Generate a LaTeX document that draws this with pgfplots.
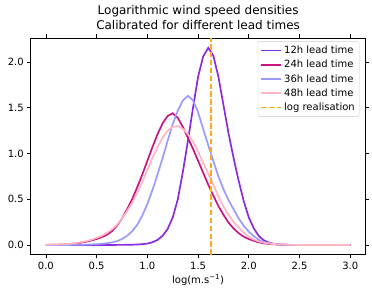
\documentclass[border=0pt]{standalone}
\usepackage{pgfplots}
\pgfplotsset{compat=1.18}
\usepackage{pgfplotstable}
\usepackage{fontspec}
\setmainfont{DejaVu Sans}
\definecolor{c12}{RGB}{138,43,226}
\definecolor{c24}{RGB}{199,21,133}
\definecolor{c36}{RGB}{155,155,255}
\definecolor{c48}{RGB}{255,182,193}
\definecolor{corange}{RGB}{255,170,30}
\pgfplotstableread{
x h12 h24 h36 h48
0.00 0 0.001 0 0.002
0.05 0 0.002 0 0.003
0.10 0 0.003 0 0.005
0.15 0 0.005 0 0.007
0.20 0 0.008 0 0.010
0.25 0 0.012 0.001 0.015
0.30 0 0.018 0.001 0.022
0.35 0 0.026 0.002 0.031
0.40 0 0.036 0.004 0.043
0.45 0 0.050 0.006 0.058
0.50 0 0.065 0.009 0.078
0.55 0 0.085 0.013 0.100
0.60 0 0.110 0.019 0.130
0.65 0 0.150 0.028 0.170
0.70 0.001 0.210 0.042 0.220
0.75 0.001 0.290 0.065 0.290
0.80 0.002 0.390 0.100 0.370
0.85 0.003 0.500 0.150 0.460
0.90 0.005 0.630 0.220 0.570
0.95 0.009 0.770 0.320 0.690
1.00 0.015 0.920 0.450 0.820
1.05 0.030 1.070 0.600 0.950
1.10 0.055 1.210 0.770 1.070
1.15 0.100 1.330 0.950 1.170
1.20 0.175 1.410 1.140 1.250
1.25 0.300 1.440 1.320 1.290
1.30 0.500 1.390 1.470 1.300
1.35 0.800 1.290 1.580 1.270
1.40 1.140 1.170 1.630 1.210
1.45 1.500 1.050 1.580 1.130
1.50 1.840 0.920 1.450 1.020
1.55 2.060 0.790 1.270 0.900
1.60 2.155 0.660 1.090 0.780
1.65 2.070 0.540 0.920 0.660
1.70 1.840 0.425 0.750 0.530
1.75 1.530 0.330 0.610 0.420
1.80 1.220 0.245 0.490 0.330
1.85 0.950 0.180 0.390 0.250
1.90 0.700 0.130 0.290 0.190
1.95 0.480 0.090 0.210 0.135
2.00 0.300 0.065 0.145 0.088
2.05 0.180 0.045 0.095 0.058
2.10 0.095 0.028 0.055 0.038
2.15 0.050 0.018 0.032 0.025
2.20 0.025 0.011 0.018 0.016
2.25 0.012 0.007 0.010 0.010
2.30 0.006 0.004 0.005 0.006
2.35 0.003 0.002 0.003 0.004
2.40 0.001 0.001 0.001 0.002
2.45 0 0 0 0.001
2.50 0 0 0 0
2.55 0 0 0 0
2.60 0 0 0 0
2.65 0 0 0 0
2.70 0 0 0 0
2.75 0 0 0 0
2.80 0 0 0 0
2.85 0 0 0 0
2.90 0 0 0 0
2.95 0 0 0 0
3.00 0 0 0 0
}\dens
\begin{document}
\begin{tikzpicture}
\path[use as bounding box] (-30.7pt,-44pt) rectangle (341.5pt,255pt);
\begin{axis}[
  at={(0,0)}, anchor=south west,
  scale only axis, width=335pt, height=217pt,
  xmin=-0.15, xmax=3.15, ymin=-0.108, ymax=2.263,
  xtick={0,0.5,...,3.0}, ytick={0,0.5,...,2.0},
  xticklabel style={/pgf/number format/.cd,fixed,fixed zerofill,precision=1},
  yticklabel style={/pgf/number format/.cd,fixed,fixed zerofill,precision=1},
  /pgf/number format/assume math mode=true,
  tick align=outside, major tick length=3.5pt, minor tick num=0,
  tick style={black, line width=0.8pt},
  axis line style={line width=0.8pt},
  ticklabel style={font=\fontsize{10}{12}\selectfont},
  title={Logarithmic wind speed densities\\Calibrated for different lead times},
  title style={align=center, font=\fontsize{12}{14.5}\selectfont, yshift=-1pt},
  xlabel={log(m.s\textsuperscript{−1})},
  xlabel style={font=\fontsize{10}{12}\selectfont, yshift=2pt},
  legend style={at={(0.982,0.985)}, anchor=north east, draw=black!20, rounded corners=2pt,
    font=\fontsize{10}{12}\selectfont, row sep=1.2pt, inner sep=2.5pt},
  legend cell align=left,
  legend image code/.code={\draw[#1] (0pt,0pt) -- (20pt,0pt);},
]
\addplot[c12, no marks, line width=1.7pt] table[x=x, y=h12] {\dens};
\addlegendentry{12h lead time}
\addplot[c24, no marks, line width=1.7pt] table[x=x, y=h24] {\dens};
\addlegendentry{24h lead time}
\addplot[c36, no marks, line width=1.7pt] table[x=x, y=h36] {\dens};
\addlegendentry{36h lead time}
\addplot[c48, no marks, line width=1.7pt] table[x=x, y=h48] {\dens};
\addlegendentry{48h lead time}
\addplot[corange, no marks, line width=1.7pt, dash pattern=on 5.5pt off 2.4pt] coordinates {(1.624,-0.108) (1.624,2.263)};
\addlegendentry{log realisation}
\end{axis}
\end{tikzpicture}
\end{document}
